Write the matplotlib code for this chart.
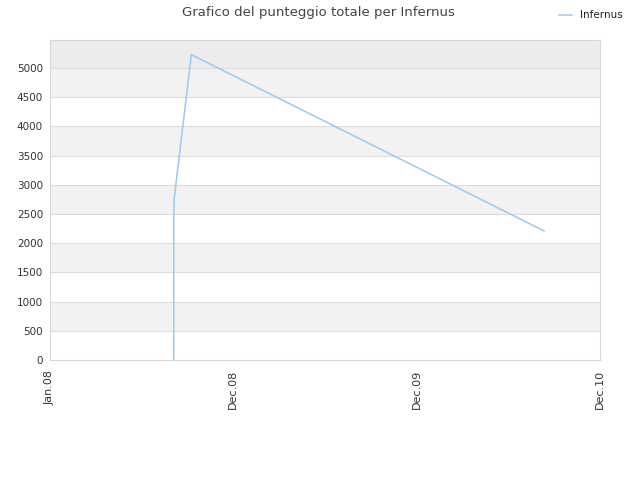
import numpy as np
import matplotlib
matplotlib.use('Agg')
import matplotlib.pyplot as plt

# x positions in tick units (Jan.08 = 0, Dec.08 = 1, Dec.09 = 2, Dec.10 = 3)
x_pos = [0.675, 0.675, 0.677, 0.771, 2.695]
punteggio = [0, 2400, 2750, 5230, 2210]
tick_labels = ['Jan.08', 'Dec.08', 'Dec.09', 'Dec.10']
series_name = 'Infernus'

fig = plt.figure(figsize=(6.4, 4.8), dpi=100)
ax = fig.add_axes([50 / 640, 120 / 480, 550 / 640, 320 / 480])

y_top = 5480
# alternating bands
for i, lo in enumerate(range(0, 5000, 500)):
    if i % 2 == 1:
        ax.axhspan(lo, lo + 500, color='#f2f2f2', lw=0, zorder=0)
ax.axhspan(5000, y_top, color='#ececec', lw=0, zorder=0)
for y in range(500, 5001, 500):
    ax.axhline(y, color='#dddddd', lw=0.8, zorder=1)

ax.plot(x_pos, punteggio, color='#99c9f5', lw=1.1, zorder=3, label=series_name)

ax.set_xlim(0, 3)
ax.set_ylim(0, y_top)
ax.set_xticks(range(len(tick_labels)))
ax.set_xticklabels(tick_labels, rotation=90)
ax.set_yticks(range(0, 5001, 500))
ax.tick_params(length=0, labelsize=7.5, colors='#333333', pad=5)
ax.tick_params(axis='x', labelsize=8, pad=7)
for s in ax.spines.values():
    s.set_color('#d8d8d8')

fig.suptitle('Grafico del punteggio totale per Infernus', x=0.497, y=0.988,
             fontsize=9.5, color='#444444')
fig.legend(loc='upper right', bbox_to_anchor=(0.988, 0.998), frameon=False,
           fontsize=7.5, handlelength=1.2, labelcolor='#222222')

fig.savefig('out.png', dpi=100)
